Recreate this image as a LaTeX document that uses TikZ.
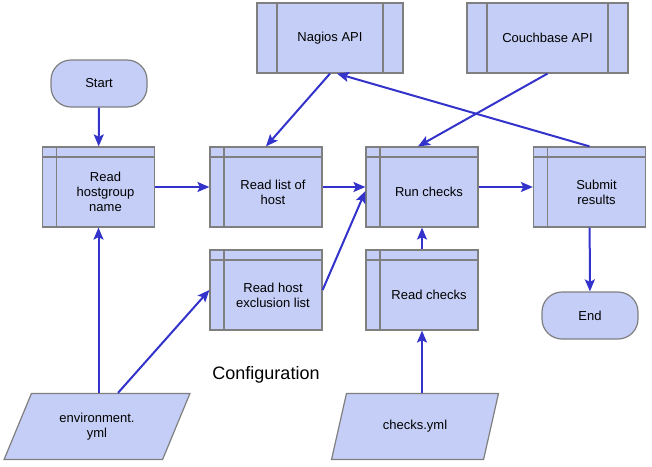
\documentclass[tikz,border=0pt]{standalone}
\usepackage{fontspec}
\setmainfont{Liberation Sans}
\usetikzlibrary{arrows.meta,shapes.geometric}
\definecolor{boxfill}{HTML}{C5CEF6}
\definecolor{boxline}{HTML}{7F7F7F}
\definecolor{arrowc}{HTML}{3333CC}
\begin{document}
\begin{tikzpicture}[x=1pt,y=-1pt,
  base/.style={draw=boxline, fill=boxfill, line width=1.2pt, align=center,
    font=\fontsize{13}{15}\selectfont, inner sep=0pt},
  txt/.style={align=center, font=\fontsize{13}{15}\selectfont, inner sep=0pt},
  storebox/.style={base, rectangle, minimum width=112pt, minimum height=80pt,
    path picture={
      \draw[boxline, line width=1.2pt]
        ([xshift=14pt]path picture bounding box.north west) -- ([xshift=14pt]path picture bounding box.south west)
        ([yshift=-10pt]path picture bounding box.north west) -- ([yshift=-10pt]path picture bounding box.north east);}},
  apibox/.style={base, rectangle, minimum height=70pt,
    path picture={
      \draw[boxline, line width=1.2pt]
        ([xshift=20pt]path picture bounding box.north west) -- ([xshift=20pt]path picture bounding box.south west)
        ([xshift=-20pt]path picture bounding box.north east) -- ([xshift=-20pt]path picture bounding box.south east);}},
  termbox/.style={base, rectangle, rounded corners=20pt, minimum width=96pt, minimum height=47pt},
  databox/.style={base, trapezium, trapezium left angle=60, trapezium right angle=120,
    trapezium stretches=true, minimum height=66pt},
  arr/.style={draw=arrowc, line width=2pt, -{Stealth[length=12pt,width=10pt,inset=2.5pt]}}
]
\useasboundingbox (0,0) rectangle (652,466);

\node[termbox] (start) at (99,83.5) {Start};
\node[storebox] (hg) at (98.5,187) {};
\node[storebox] (list) at (266,187) {};
\node[storebox] (run) at (422,187) {};
\node[storebox] (sub) at (589.5,187) {};
\node[storebox] (excl) at (266,290) {};
\node[storebox] (rc) at (422,290) {};
\node[txt] (hgt) at ([xshift=7pt,yshift=-5pt]hg.center) {Read\\hostgroup\\name};
\node[txt] (listt) at ([xshift=7pt,yshift=-5pt]list.center) {Read list of\\host};
\node[txt] (runt) at ([xshift=7pt,yshift=-5pt]run.center) {Run checks};
\node[txt] (subt) at ([xshift=7pt,yshift=-5pt]sub.center) {Submit\\results};
\node[txt] (exclt) at ([xshift=7pt,yshift=-5pt]excl.center) {Read host\\exclusion list};
\node[txt] (rct) at ([xshift=7pt,yshift=-5pt]rc.center) {Read checks};
\node[apibox, minimum width=146pt] (nag) at (330,38) {Nagios API};
\node[apibox, minimum width=161pt] (cb) at (547.5,38) {Couchbase API};
\node[termbox] (end) at (590,315.5) {End};
\node[databox, minimum width=186pt] (env) at (97,426.5) {environment.\\yml};
\node[databox, minimum width=168pt] (chk) at (415,426.5) {checks.yml};
\node[font=\fontsize{18}{21}\selectfont, inner sep=0pt] (conf) at (266,375) {Configuration};

\draw[arr] (start) -- (hg);
\draw[arr] (hg) -- (list);
\draw[arr] (list) -- (run);
\draw[arr] (run) -- (sub);
\draw[arr] (sub) -- (end);
\draw[arr] (nag.south) -- (list.north);
\draw[arr] (sub.north) -- ([xshift=7pt]nag.south);
\draw[arr] (cb.south) -- ([xshift=-4pt]run.north);
\draw[arr] (rc) -- (run);
\draw[arr] (chk.north -| rc.south) -- (rc.south);
\draw[arr] (excl.east) -- ([yshift=-4pt]run.west);
\draw[arr] (env.north -| hg.south) -- (hg.south);
\draw[arr] ([xshift=21pt]env.north) -- (excl.west);
\end{tikzpicture}
\end{document}
